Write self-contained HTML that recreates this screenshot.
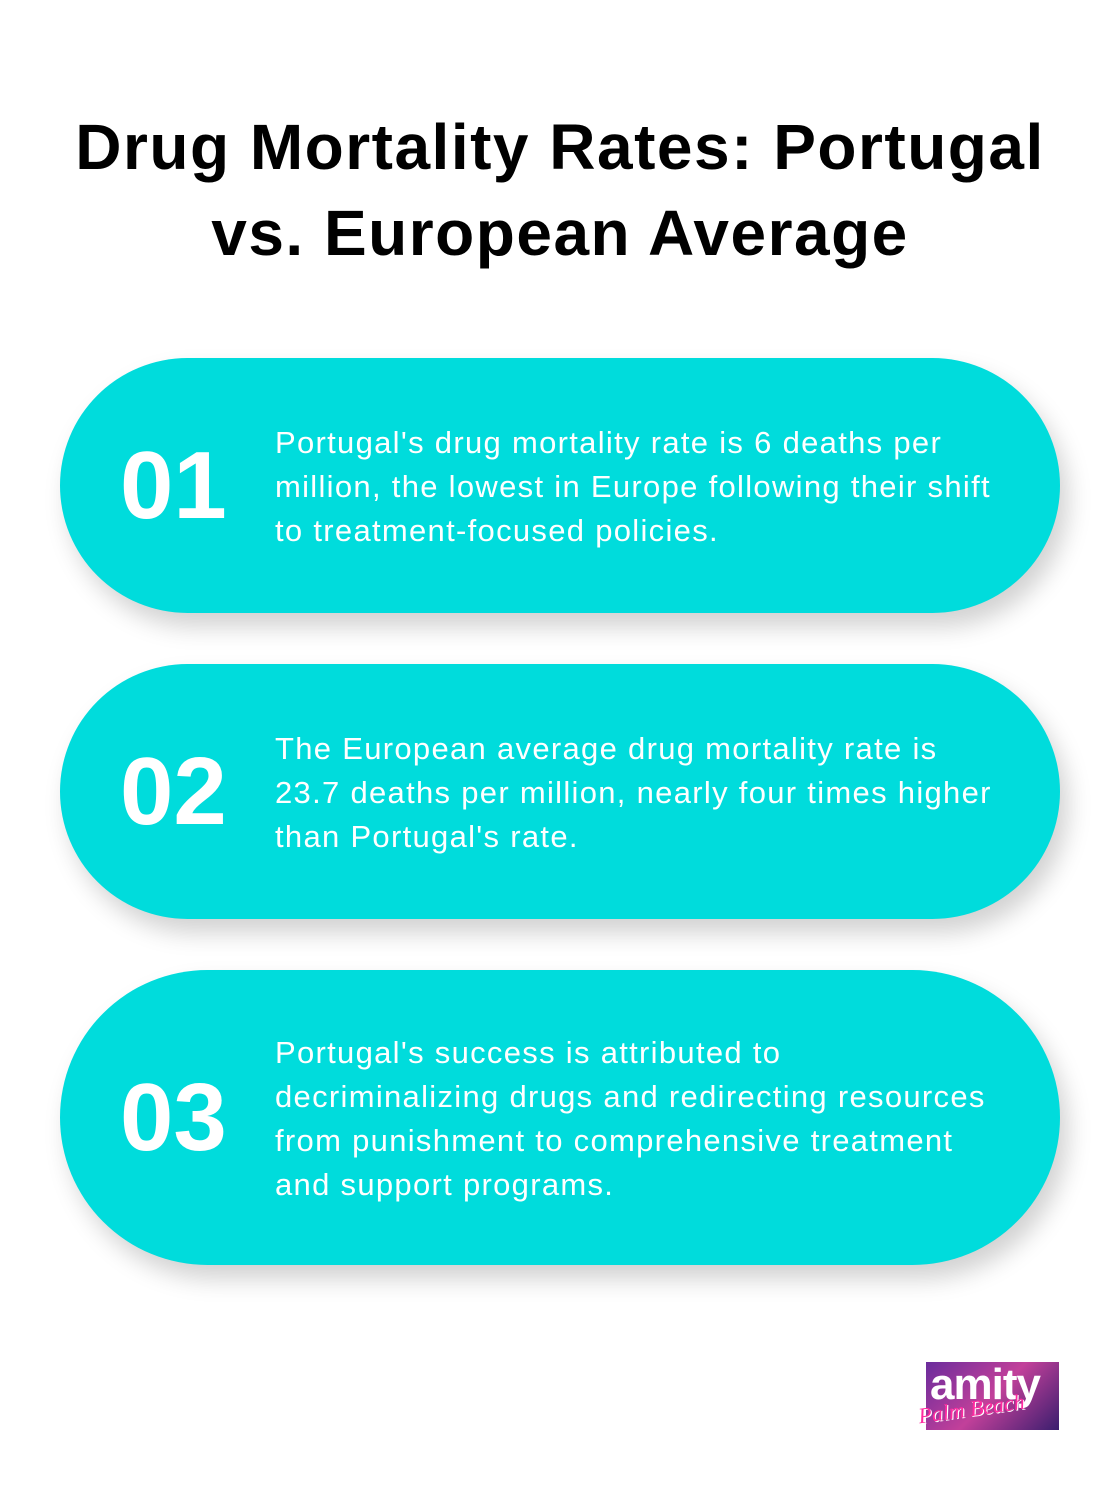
<!DOCTYPE html>
<html>
<head>
<meta charset="utf-8">
<style>
  html,body{margin:0;padding:0;}
  body{width:1120px;height:1496px;background:#fff;position:relative;overflow:hidden;font-family:"Liberation Sans",sans-serif;}
  .title{position:absolute;left:0;top:104px;width:1120px;text-align:center;font-size:64px;font-weight:bold;line-height:86px;color:#000;letter-spacing:1.5px;}
  .card{position:absolute;left:60px;width:1000px;background:#00dcdc;box-shadow:8px 14px 24px rgba(0,0,0,0.18);}
  .num{position:absolute;left:60px;top:0;bottom:0;display:flex;align-items:center;font-size:96px;font-weight:bold;color:#fff;letter-spacing:0px;}
  .txt{position:absolute;left:215px;right:0;top:2px;bottom:0;display:flex;align-items:center;font-size:31px;line-height:44px;color:#fff;white-space:nowrap;letter-spacing:1.3px;}
  .logo{position:absolute;left:926px;top:1362px;width:133px;height:68px;background:linear-gradient(135deg,#6a2c9c,#c2409a 50%,#3a1e6e);}
</style>
</head>
<body>
<div class="title">Drug Mortality Rates: Portugal<br>vs. European Average</div>

<div class="card" style="top:358px;height:255px;border-radius:128px;">
  <div class="num">01</div>
  <div class="txt"><div>Portugal's drug mortality rate is 6 deaths per<br>million, the lowest in Europe following their shift<br>to treatment-focused policies.</div></div>
</div>

<div class="card" style="top:664px;height:255px;border-radius:128px;">
  <div class="num">02</div>
  <div class="txt"><div>The European average drug mortality rate is<br>23.7 deaths per million, nearly four times higher<br>than Portugal's rate.</div></div>
</div>

<div class="card" style="top:970px;height:295px;border-radius:148px;">
  <div class="num">03</div>
  <div class="txt"><div>Portugal's success is attributed to<br>decriminalizing drugs and redirecting resources<br>from punishment to comprehensive treatment<br>and support programs.</div></div>
</div>

<div class="logo">
  <div style="position:absolute;left:4px;top:-2px;font-size:44px;font-weight:bold;color:#fff;letter-spacing:-1px;">amity</div>
  <div style="position:absolute;left:-8px;top:34px;font-size:22px;font-style:italic;font-family:'Liberation Serif',serif;color:#ff2aa0;text-shadow:1px 1px 0 #fff;transform:rotate(-8deg);">Palm Beach</div>
</div>
</body>
</html>
